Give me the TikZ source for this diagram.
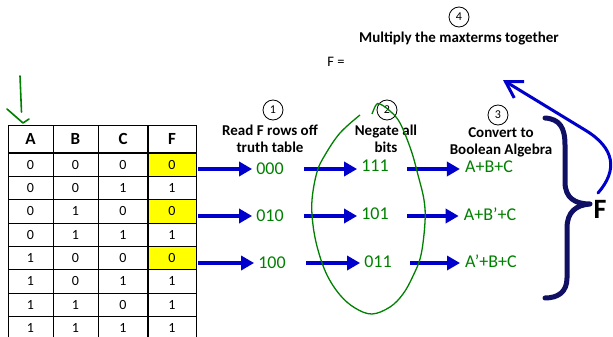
\documentclass[tikz,border=0pt]{standalone}
\usepackage{fontspec}
\setmainfont{Carlito}
\usetikzlibrary{arrows.meta,calc}
\definecolor{hblue}{RGB}{0,0,204}
\definecolor{hgreen}{RGB}{0,128,0}
\definecolor{navyb}{RGB}{15,15,100}
\definecolor{cellyellow}{RGB}{255,255,0}
\begin{document}
\begin{tikzpicture}[x=1pt,y=-1pt,
  cell/.style={inner sep=0pt, minimum height=23.33pt, font=\fontsize{14}{14}\selectfont},
  head/.style={inner sep=0pt, font=\bfseries\fontsize{17}{17}\selectfont},
  lbl/.style={align=center, font=\bfseries\fontsize{15}{17}\selectfont, inner sep=0pt},
  numc/.style={circle, draw, line width=0.8pt, minimum size=20pt, inner sep=0pt, font=\fontsize{12}{12}\selectfont},
  hand/.style={text=hgreen, inner sep=0pt, font=\fontsize{18}{18}\selectfont},
  barrow/.style={hblue, line width=4pt, -{Triangle[length=13pt,width=14pt]}},
  thin/.style={line width=0.8pt},
  thick2/.style={line width=2pt},
]
\useasboundingbox (0,0) rectangle (613,337);
\begin{scope}
\clip (0,0) rectangle (613,337);
\foreach \r in {1,3,5} \fill[cellyellow] (148,{153+23.33*(\r-1)}) rectangle (196,{153+23.33*\r});
\foreach \yy in {125,176.33,199.67,223,246.33,269.67,293,316.33} \draw[thin] (8,\yy) -- (196,\yy);
\draw[thick2] (8,153) -- (196,153);
\foreach \xx in {8,53,98,196} \draw[thin] (\xx,125) -- (\xx,345);
\draw[thick2] (148,125) -- (148,345);
\node[head] (hA) at (30.5,139) {A};
\node[head] (hB) at (75.5,139) {B};
\node[head] (hC) at (123,139) {C};
\node[head] (hF) at (172,139) {F};
\foreach \a/\b/\c/\f [count=\r] in {0/0/0/0,0/0/1/1,0/1/0/0,0/1/1/1,1/0/0/0,1/0/1/1,1/1/0/1,1/1/1/1} {
  \node[cell] (a\r) at (30.5,{164.67+23.33*(\r-1)}) {\a};
  \node[cell] (b\r) at (75.5,{164.67+23.33*(\r-1)}) {\b};
  \node[cell] (c\r) at (123,{164.67+23.33*(\r-1)}) {\c};
  \node[cell, minimum width=48pt] (f\r) at (172,{164.67+23.33*(\r-1)}) {\f};
}
\end{scope}

% step labels
\node[numc] (s1) at (273,110) {1};
\node[lbl] (l1) at (270,138.5) {Read F rows off\\truth table};
\node[numc] (s2) at (387,110) {2};
\node[lbl] (l2) at (386,139) {Negate all\\bits};
\node[numc] (s3) at (498,115) {3};
\node[lbl] (l3) at (501,142.5) {Convert to\\Boolean Algebra};
\node[numc] (s4) at (459,17) {4};
\node[lbl] (l4) at (459,38) {Multiply the maxterms together};
\node[inner sep=0pt, font=\fontsize{14.5}{14.5}\selectfont] (feq) at (336,62) {F =};

% handwritten values
\node[hand] (m1) at (270,169) {000};
\node[hand] (n1) at (375,166) {111};
\node[hand] (e1) at (489,167) {A+B+C};
\node[hand] (m2) at (270,216) {010};
\node[hand] (n2) at (375,214) {101};
\node[hand] (e2) at (490,214) {A+B'+C};
\node[hand] (m3) at (272,263) {100};
\node[hand] (n3) at (378,262) {011};
\node[hand] (e3) at (491,261) {A'+B+C};

\foreach \i in {1,2,3} {
  \draw[barrow, shorten <=2pt, shorten >=4pt] (f\i.east |- m\i) -- (m\i.west);
  \draw[barrow, shorten <=20pt, shorten >=4pt] (m\i.east) -- (m\i -| n\i.west);
  \draw[barrow, shorten <=18pt, shorten >=5pt] (m\i -| n\i.east) -- (m\i -| e\i.west);
}

% green ellipse
\draw[hgreen, line width=1.3pt] plot[smooth, tension=0.6] coordinates {(360,115) (340,133) (325,155) (317,172) (312,200) (313,225) (318,250) (327,275) (340,295) (355,308) (372,314) (390,307) (403,294) (413,276) (421,255) (425,222) (424,200) (418,175) (411,150) (400,123) (390,111) (380,104) (376,105) (372,114)};

% green tick arrow
\draw[hgreen, line width=1.6pt, line cap=round, line join=round] (20,76) -- (21.5,112);
\draw[hgreen, line width=1.6pt, line cap=round, line join=round] (7,109) -- (23,123) -- (29,119);

% brace and F
\node[inner sep=0pt, font=\bfseries\fontsize{28}{28}\selectfont] (F) at (600,209) {F};
\draw[navyb, line width=5pt, line cap=round, line join=round] (545,118) .. controls (560,119) and (565,128) .. (565,145) -- (565,182) .. controls (565,198) and (575,204) .. (590,204) .. controls (576,205) and (567,212) .. (567,228) -- (567,278) .. controls (567,292) and (558,298) .. (545,298);

% blue curved arrow
\coordinate (cs) at (598,193);
\coordinate (ct) at (503,80);
\draw[hblue, line width=3pt, line cap=round, -{Straight Barb[length=16pt,width=19pt]}] (cs) .. controls (618,170) and (615,148) .. (585,130) -- (ct);
\end{tikzpicture}
\end{document}
